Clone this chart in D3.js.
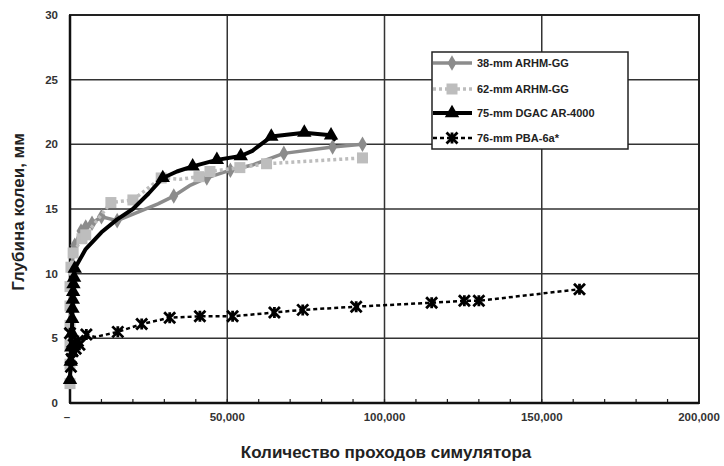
<!DOCTYPE html>
<html><head><meta charset="utf-8">
<script src="https://cdn.jsdelivr.net/npm/d3@7"></script>
<style>body{margin:0;background:#fff}svg{display:block}text{font-family:"Liberation Sans",Arial,sans-serif;font-weight:bold}</style>
</head><body><svg id="c" width="724" height="466"></svg>
<script>
const seriesNames = ["38-mm ARHM-GG","62-mm ARHM-GG","75-mm DGAC AR-4000","76-mm PBA-6a*"];
// [passes, rut depth, marker shown (1/0)]
const s38 = [[500,10.5,1],[1500,12.2,1],[3500,13.3,1],[5000,13.6,1],[7000,13.9,1],[10000,14.4,1],[15000,14.1,1],[22000,14.8,0],[28000,15.4,0],[33000,16.0,1],[38000,16.8,0],[43500,17.4,1],[51000,18.0,1],[58000,18.4,0],[68000,19.3,1],[83500,19.8,1],[93000,20.0,1]];
const s62 = [[0,1.5,1],[0,3,1],[0,4.5,1],[0,6,1],[0,7.5,1],[0,9,1],[300,10.5,1],[1000,11.6,1],[3800,12.7,1],[5000,13.0,1],[13000,15.5,1],[20000,15.7,1],[29000,17.4,1],[35000,17.3,0],[41000,17.5,1],[44500,17.9,1],[54000,18.2,1],[62500,18.5,1],[93000,18.95,1]];
const s75 = [[0,1.8,1],[200,3.2,1],[400,4.3,1],[600,5.4,1],[700,6.5,1],[800,7.3,1],[900,8.0,1],[1000,8.6,1],[1100,9.2,1],[1300,9.7,1],[1500,10.4,1],[5000,11.9,0],[10000,13.2,0],[15000,14.2,0],[20000,15.0,0],[25000,16.2,0],[29500,17.4,1],[34000,17.9,0],[39000,18.3,1],[46700,18.8,1],[54300,19.1,1],[58000,19.5,0],[64000,20.6,1],[74500,20.9,1],[83000,20.7,1],[84500,20.3,0]];
const s76 = [[0,5.4,1],[300,2.8,1],[500,3.4,1],[800,4.0,1],[1200,4.5,1],[1800,4.2,1],[2500,4.8,1],[3000,4.5,1],[5200,5.3,1],[8000,5.1,0],[15200,5.5,1],[22800,6.1,1],[31700,6.6,1],[41300,6.7,1],[51700,6.7,1],[65000,7.0,1],[74000,7.2,1],[91000,7.45,1],[115000,7.75,1],[125400,7.9,1],[130000,7.9,1],[162000,8.8,1]];
const xTicks = [0,50000,100000,150000,200000];
const xTickLabels = ["–","50,000","100,000","150,000","200,000"];
const yTicks = [0,5,10,15,20,25,30];
const xTitle = "Количество проходов симулятора";
const yTitle = "Глубина колеи, мм";

const svg = d3.select("#c");
const L=70,R=699,T=15,B=403;
const x = d3.scaleLinear().domain([0,200000]).range([L,R]);
const y = d3.scaleLinear().domain([0,30]).range([B,T]);

const g = svg.append("g");
g.selectAll(".hg").data(yTicks.slice(1,-1)).enter().append("line")
 .attr("x1",L).attr("x2",R).attr("y1",d=>y(d)).attr("y2",d=>y(d)).attr("stroke","#333").attr("stroke-width",1.5);
g.selectAll(".vg").data(xTicks.slice(1,-1)).enter().append("line")
 .attr("y1",T).attr("y2",B).attr("x1",d=>x(d)).attr("x2",d=>x(d)).attr("stroke","#333").attr("stroke-width",1.5);
g.selectAll(".mt").data(d3.range(10000,200000,10000)).enter().append("line")
 .attr("x1",d=>x(d)).attr("x2",d=>x(d)).attr("y1",B).attr("y2",B-4).attr("stroke","#222").attr("stroke-width",1.2);
svg.append("rect").attr("x",L).attr("y",T).attr("width",R-L).attr("height",B-T).attr("fill","none").attr("stroke","#222").attr("stroke-width",2);
svg.append("line").attr("x1",L).attr("x2",R).attr("y1",B).attr("y2",B).attr("stroke","#111").attr("stroke-width",2.5);
svg.append("line").attr("x1",L).attr("x2",L).attr("y1",T).attr("y2",B).attr("stroke","#111").attr("stroke-width",2.5);

svg.selectAll(".yl").data(yTicks).enter().append("text")
 .attr("x",58).attr("y",d=>y(d)+4).attr("text-anchor","end").attr("font-size",11.5).attr("fill","#333").text(d=>d);
svg.selectAll(".xl").data(xTicks).enter().append("text")
 .attr("x",(d,i)=>x(d)-(i==0?3:0)).attr("y",421).attr("text-anchor","middle").attr("font-size",11.5).attr("fill","#333").text((d,i)=>xTickLabels[i]);
svg.append("text").attr("x",386).attr("y",458).attr("text-anchor","middle").attr("font-size",17).attr("fill","#222").text(xTitle);
svg.append("text").attr("transform","translate(24,212) rotate(-90)").attr("text-anchor","middle").attr("font-size",17).attr("fill","#222").text(yTitle);

const line = d3.line().curve(d3.curveMonotoneX).x(d=>x(d[0])).y(d=>y(d[1]));
const styles = [
 {data:s38,color:"#8c8c8c",w:3.5,dash:null,marker:"diamond"},
 {data:s62,color:"#bdbdbd",w:3.5,dash:"3,3",marker:"square"},
 {data:s75,color:"#000",w:4,dash:null,marker:"triangle"},
 {data:s76,color:"#000",w:2.5,dash:"4,3",marker:"star"}
];
function drawMarker(sel,type,color,cx,cy){
  if(type==="diamond") sel.append("path").attr("d",d3.symbol(d3.symbolDiamond,70)()).attr("transform",`translate(${cx},${cy})`).attr("fill",color);
  else if(type==="square") sel.append("rect").attr("x",cx-5.5).attr("y",cy-5.5).attr("width",11).attr("height",11).attr("fill",color);
  else if(type==="triangle") sel.append("path").attr("d",d3.symbol(d3.symbolTriangle,90)()).attr("transform",`translate(${cx},${cy})`).attr("fill",color);
  else { const p=`M${cx-5.5},${cy-5.5}L${cx+5.5},${cy+5.5}M${cx-5.5},${cy+5.5}L${cx+5.5},${cy-5.5}M${cx},${cy-5.5}L${cx},${cy+5.5}`;
    sel.append("path").attr("d",p).attr("stroke",color).attr("stroke-width",2.8).attr("fill","none"); }
}
styles.forEach(s=>{
  const gg = svg.append("g");
  gg.append("path").attr("d",d3.line().x(d=>x(d[0])).y(d=>y(d[1]))(s.data)).attr("fill","none").attr("stroke",s.color).attr("stroke-width",s.w).attr("stroke-dasharray",s.dash).attr("stroke-linejoin","round");
  s.data.filter(d=>d[2]).forEach(d=>drawMarker(gg,s.marker,s.color,x(d[0]),y(d[1])));
});

const lg = svg.append("g");
lg.append("rect").attr("x",432).attr("y",52).attr("width",196).attr("height",97).attr("fill","#fff").attr("stroke","#222").attr("stroke-width",1.5);
const ly=[63,89,113,138];
styles.forEach((s,i)=>{
  lg.append("line").attr("x1",433).attr("x2",472).attr("y1",ly[i]).attr("y2",ly[i]).attr("stroke",s.color).attr("stroke-width",s.w).attr("stroke-dasharray",s.dash);
  drawMarker(lg,s.marker,s.color,452,ly[i]);
  lg.append("text").attr("x",477).attr("y",ly[i]+4).attr("font-size",11).attr("fill","#222").text(seriesNames[i]);
});
</script></body></html>
